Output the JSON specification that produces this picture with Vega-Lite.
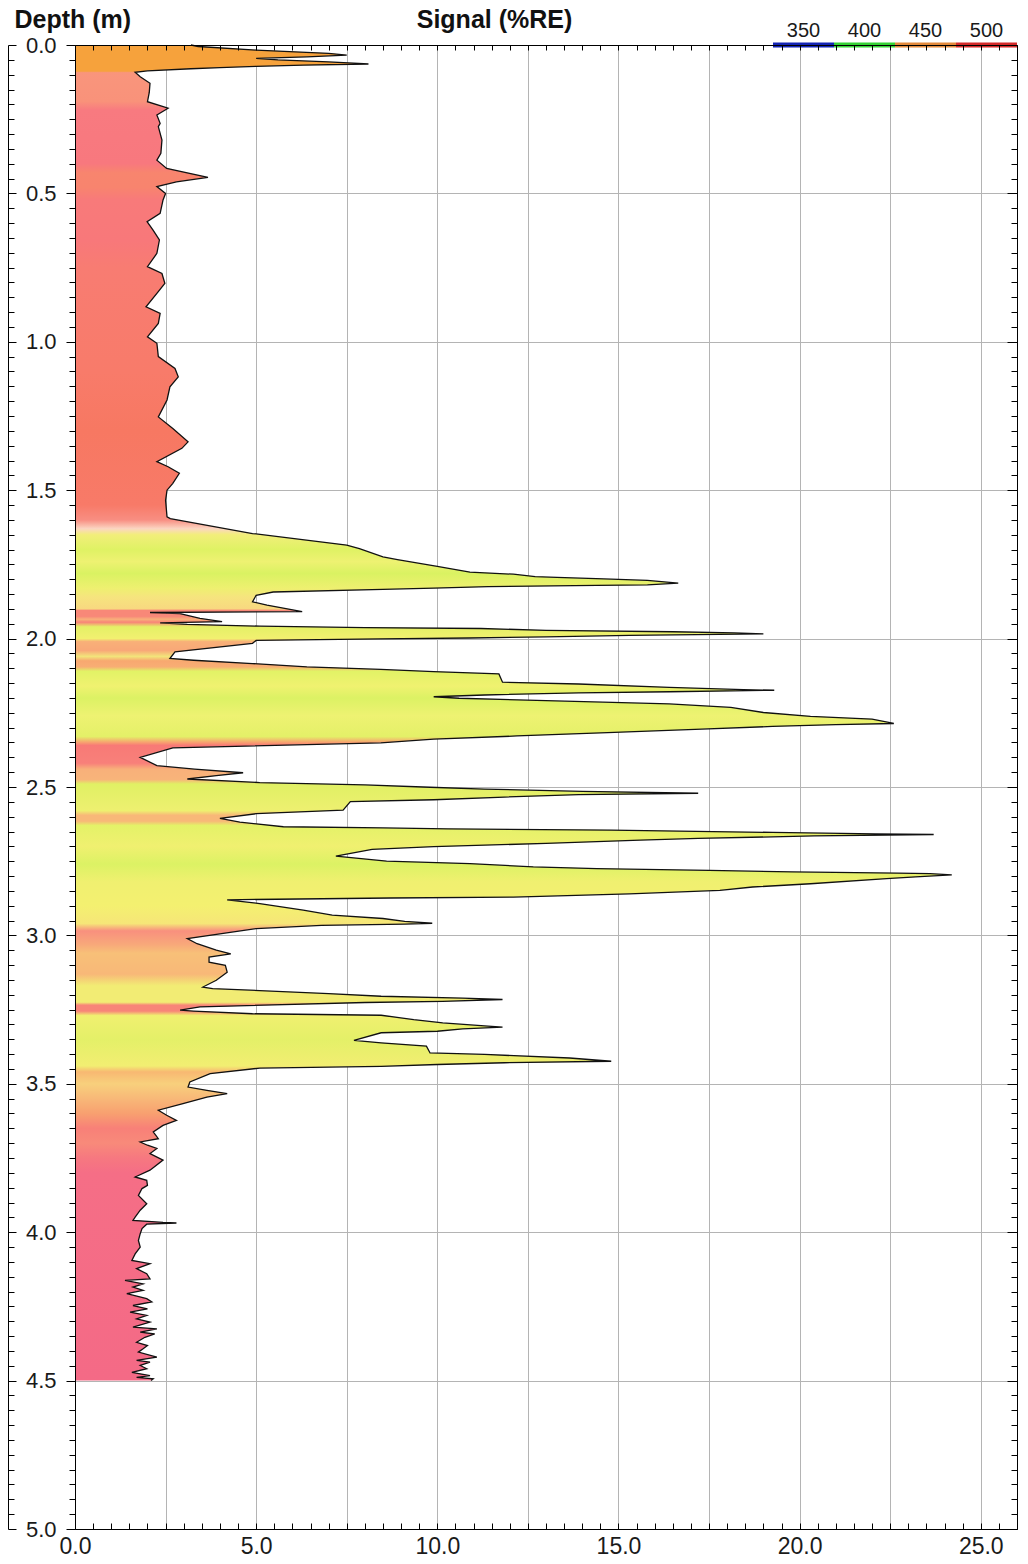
{
"$schema": "https://vega.github.io/schema/vega-lite/v6.json",
"width": 942,
"height": 1484,
"autosize": {"type": "none"},
"padding": {"left": 75, "top": 45, "right": 11, "bottom": 35},
"background": "white",
"config": {
  "view": {"stroke": null},
  "axis": {"labelFont": "Liberation Sans", "titleFont": "Liberation Sans", "domainColor": "#000", "tickColor": "#000", "labelColor": "#1a1a1a", "titleColor": "#111", "labelOverlap": false, "labelFlush": false, "domainWidth": 1, "tickWidth": 1}
},
"datasets": {
  "log": [
{"depth":0,"signal":3.2},{"depth":0.005,"signal":3.4},{"depth":0.017,"signal":5.0},{"depth":0.028,"signal":7.0},{"depth":0.034,"signal":7.5},{"depth":0.04,"signal":6.4},{"depth":0.045,"signal":5.0},{"depth":0.05,"signal":5.6},{"depth":0.057,"signal":7.0},{"depth":0.064,"signal":8.1},{"depth":0.068,"signal":6.3},{"depth":0.072,"signal":5.0},{"depth":0.076,"signal":4.0},{"depth":0.08,"signal":3.2},{"depth":0.087,"signal":2.0},{"depth":0.092,"signal":1.66},{"depth":0.107,"signal":1.8},{"depth":0.129,"signal":2.07},{"depth":0.16,"signal":2.05},{"depth":0.191,"signal":2.0},{"depth":0.213,"signal":2.57},{"depth":0.236,"signal":2.26},{"depth":0.264,"signal":2.35},{"depth":0.275,"signal":2.3},{"depth":0.32,"signal":2.4},{"depth":0.365,"signal":2.37},{"depth":0.388,"signal":2.26},{"depth":0.416,"signal":2.53},{"depth":0.446,"signal":3.67},{"depth":0.461,"signal":2.8},{"depth":0.477,"signal":2.26},{"depth":0.5,"signal":2.5},{"depth":0.522,"signal":2.43},{"depth":0.567,"signal":2.35},{"depth":0.595,"signal":1.99},{"depth":0.623,"signal":2.15},{"depth":0.657,"signal":2.33},{"depth":0.702,"signal":2.26},{"depth":0.747,"signal":2.0},{"depth":0.77,"signal":2.4},{"depth":0.803,"signal":2.48},{"depth":0.837,"signal":2.26},{"depth":0.882,"signal":1.96},{"depth":0.904,"signal":2.35},{"depth":0.938,"signal":2.3},{"depth":0.983,"signal":2.0},{"depth":1.005,"signal":2.26},{"depth":1.05,"signal":2.3},{"depth":1.09,"signal":2.76},{"depth":1.118,"signal":2.85},{"depth":1.152,"signal":2.62},{"depth":1.196,"signal":2.54},{"depth":1.253,"signal":2.3},{"depth":1.292,"signal":2.7},{"depth":1.337,"signal":3.12},{"depth":1.359,"signal":2.95},{"depth":1.404,"signal":2.26},{"depth":1.421,"signal":2.57},{"depth":1.443,"signal":2.88},{"depth":1.477,"signal":2.7},{"depth":1.5,"signal":2.54},{"depth":1.534,"signal":2.5},{"depth":1.59,"signal":2.54},{"depth":1.596,"signal":2.63},{"depth":1.646,"signal":4.9},{"depth":1.685,"signal":7.5},{"depth":1.697,"signal":7.85},{"depth":1.725,"signal":8.5},{"depth":1.734,"signal":8.9},{"depth":1.757,"signal":10.0},{"depth":1.776,"signal":10.9},{"depth":1.783,"signal":12.1},{"depth":1.791,"signal":12.7},{"depth":1.794,"signal":13.3},{"depth":1.799,"signal":14.6},{"depth":1.804,"signal":15.8},{"depth":1.813,"signal":16.65},{"depth":1.819,"signal":15.8},{"depth":1.821,"signal":14.4},{"depth":1.825,"signal":11.4},{"depth":1.83,"signal":9.9},{"depth":1.834,"signal":8.5},{"depth":1.843,"signal":5.47},{"depth":1.854,"signal":5.0},{"depth":1.876,"signal":4.9},{"depth":1.887,"signal":5.3},{"depth":1.909,"signal":6.27},{"depth":1.912,"signal":2.07},{"depth":1.916,"signal":2.9},{"depth":1.932,"signal":3.45},{"depth":1.943,"signal":4.06},{"depth":1.947,"signal":2.35},{"depth":1.952,"signal":3.1},{"depth":1.958,"signal":5.1},{"depth":1.963,"signal":8.0},{"depth":1.966,"signal":11.2},{"depth":1.972,"signal":13.0},{"depth":1.977,"signal":16.5},{"depth":1.981,"signal":18.2},{"depth":1.984,"signal":19.0},{"depth":1.989,"signal":15.3},{"depth":1.994,"signal":13.0},{"depth":1.998,"signal":10.9},{"depth":2.001,"signal":8.44},{"depth":2.006,"signal":5.0},{"depth":2.016,"signal":4.9},{"depth":2.045,"signal":2.76},{"depth":2.067,"signal":2.62},{"depth":2.073,"signal":3.27},{"depth":2.084,"signal":4.9},{"depth":2.095,"signal":6.4},{"depth":2.104,"signal":8.44},{"depth":2.111,"signal":9.9},{"depth":2.119,"signal":11.7},{"depth":2.147,"signal":11.8},{"depth":2.153,"signal":13.9},{"depth":2.164,"signal":16.4},{"depth":2.172,"signal":18.45},{"depth":2.174,"signal":19.3},{"depth":2.179,"signal":16.4},{"depth":2.183,"signal":13.9},{"depth":2.19,"signal":11.3},{"depth":2.196,"signal":9.9},{"depth":2.201,"signal":10.6},{"depth":2.209,"signal":13.0},{"depth":2.22,"signal":16.4},{"depth":2.232,"signal":18.1},{"depth":2.249,"signal":19.0},{"depth":2.262,"signal":20.3},{"depth":2.271,"signal":22.0},{"depth":2.286,"signal":22.6},{"depth":2.29,"signal":21.0},{"depth":2.296,"signal":19.25},{"depth":2.305,"signal":17.3},{"depth":2.317,"signal":14.7},{"depth":2.328,"signal":12.2},{"depth":2.339,"signal":9.9},{"depth":2.351,"signal":8.44},{"depth":2.368,"signal":2.7},{"depth":2.4,"signal":1.8},{"depth":2.428,"signal":2.26},{"depth":2.44,"signal":3.3},{"depth":2.452,"signal":4.64},{"depth":2.462,"signal":3.9},{"depth":2.473,"signal":3.1},{"depth":2.485,"signal":5.1},{"depth":2.493,"signal":8.0},{"depth":2.5,"signal":9.6},{"depth":2.507,"signal":11.3},{"depth":2.515,"signal":14.0},{"depth":2.521,"signal":17.2},{"depth":2.526,"signal":13.9},{"depth":2.534,"signal":11.85},{"depth":2.543,"signal":9.9},{"depth":2.549,"signal":7.6},{"depth":2.578,"signal":7.4},{"depth":2.59,"signal":5.0},{"depth":2.606,"signal":4.0},{"depth":2.618,"signal":4.55},{"depth":2.634,"signal":5.75},{"depth":2.638,"signal":8.5},{"depth":2.641,"signal":10.3},{"depth":2.645,"signal":14.8},{"depth":2.653,"signal":19.25},{"depth":2.658,"signal":22.1},{"depth":2.66,"signal":23.7},{"depth":2.665,"signal":20.4},{"depth":2.673,"signal":17.2},{"depth":2.679,"signal":15.6},{"depth":2.69,"signal":13.0},{"depth":2.701,"signal":9.9},{"depth":2.71,"signal":8.2},{"depth":2.733,"signal":7.2},{"depth":2.741,"signal":7.9},{"depth":2.75,"signal":8.6},{"depth":2.758,"signal":10.9},{"depth":2.769,"signal":12.65},{"depth":2.775,"signal":14.4},{"depth":2.781,"signal":17.5},{"depth":2.786,"signal":19.8},{"depth":2.79,"signal":22.7},{"depth":2.792,"signal":23.6},{"depth":2.796,"signal":24.2},{"depth":2.803,"signal":23.2},{"depth":2.809,"signal":22.4},{"depth":2.826,"signal":20.3},{"depth":2.837,"signal":18.7},{"depth":2.848,"signal":17.8},{"depth":2.86,"signal":15.3},{"depth":2.871,"signal":12.1},{"depth":2.874,"signal":8.7},{"depth":2.88,"signal":4.2},{"depth":2.893,"signal":5.1},{"depth":2.915,"signal":6.3},{"depth":2.932,"signal":7.1},{"depth":2.943,"signal":8.5},{"depth":2.953,"signal":9.1},{"depth":2.959,"signal":9.86},{"depth":2.962,"signal":9.1},{"depth":2.966,"signal":6.8},{"depth":2.977,"signal":5.0},{"depth":3.011,"signal":3.1},{"depth":3.028,"signal":3.37},{"depth":3.05,"signal":3.9},{"depth":3.062,"signal":4.3},{"depth":3.073,"signal":3.7},{"depth":3.09,"signal":3.7},{"depth":3.101,"signal":4.15},{"depth":3.124,"signal":4.2},{"depth":3.151,"signal":3.9},{"depth":3.174,"signal":3.53},{"depth":3.179,"signal":3.8},{"depth":3.196,"signal":7.0},{"depth":3.205,"signal":8.45},{"depth":3.211,"signal":10.7},{"depth":3.216,"signal":11.8},{"depth":3.222,"signal":10.15},{"depth":3.226,"signal":8.0},{"depth":3.241,"signal":3.45},{"depth":3.252,"signal":2.9},{"depth":3.255,"signal":3.27},{"depth":3.264,"signal":4.9},{"depth":3.269,"signal":8.45},{"depth":3.284,"signal":9.35},{"depth":3.295,"signal":10.15},{"depth":3.306,"signal":11.4},{"depth":3.309,"signal":11.8},{"depth":3.315,"signal":10.7},{"depth":3.323,"signal":10.0},{"depth":3.328,"signal":8.45},{"depth":3.354,"signal":7.7},{"depth":3.362,"signal":8.45},{"depth":3.373,"signal":9.7},{"depth":3.396,"signal":9.8},{"depth":3.401,"signal":11.3},{"depth":3.413,"signal":13.65},{"depth":3.424,"signal":14.8},{"depth":3.429,"signal":11.85},{"depth":3.435,"signal":10.0},{"depth":3.441,"signal":8.45},{"depth":3.447,"signal":5.1},{"depth":3.466,"signal":3.73},{"depth":3.494,"signal":3.17},{"depth":3.511,"signal":3.12},{"depth":3.522,"signal":3.64},{"depth":3.533,"signal":4.2},{"depth":3.545,"signal":3.64},{"depth":3.567,"signal":2.98},{"depth":3.589,"signal":2.3},{"depth":3.606,"signal":2.53},{"depth":3.623,"signal":2.8},{"depth":3.64,"signal":2.43},{"depth":3.662,"signal":2.16},{"depth":3.685,"signal":2.3},{"depth":3.696,"signal":1.8},{"depth":3.707,"signal":2.0},{"depth":3.718,"signal":2.26},{"depth":3.735,"signal":2.07},{"depth":3.757,"signal":2.43},{"depth":3.791,"signal":2.07},{"depth":3.814,"signal":1.66},{"depth":3.825,"signal":1.98},{"depth":3.842,"signal":2.0},{"depth":3.853,"signal":1.85},{"depth":3.876,"signal":1.75},{"depth":3.904,"signal":1.98},{"depth":3.926,"signal":1.8},{"depth":3.949,"signal":1.66},{"depth":3.96,"signal":1.6},{"depth":3.967,"signal":2.43},{"depth":3.969,"signal":2.8},{"depth":3.973,"signal":1.98},{"depth":3.988,"signal":1.85},{"depth":4.005,"signal":1.8},{"depth":4.028,"signal":1.75},{"depth":4.05,"signal":1.8},{"depth":4.073,"signal":1.66},{"depth":4.095,"signal":1.57},{"depth":4.106,"signal":2.07},{"depth":4.123,"signal":1.7},{"depth":4.14,"signal":1.98},{"depth":4.157,"signal":2.07},{"depth":4.162,"signal":1.38},{"depth":4.174,"signal":1.88},{"depth":4.185,"signal":1.6},{"depth":4.196,"signal":1.88},{"depth":4.207,"signal":1.43},{"depth":4.224,"signal":1.98},{"depth":4.235,"signal":2.12},{"depth":4.247,"signal":1.6},{"depth":4.258,"signal":2.0},{"depth":4.269,"signal":1.52},{"depth":4.28,"signal":1.98},{"depth":4.292,"signal":1.7},{"depth":4.303,"signal":2.07},{"depth":4.32,"signal":1.6},{"depth":4.326,"signal":2.26},{"depth":4.337,"signal":1.8},{"depth":4.343,"signal":2.2},{"depth":4.354,"signal":1.93},{"depth":4.371,"signal":1.7},{"depth":4.382,"signal":2.0},{"depth":4.393,"signal":1.88},{"depth":4.404,"signal":1.75},{"depth":4.421,"signal":2.26},{"depth":4.432,"signal":1.7},{"depth":4.438,"signal":2.07},{"depth":4.449,"signal":1.8},{"depth":4.46,"signal":1.98},{"depth":4.472,"signal":1.57},{"depth":4.483,"signal":2.07},{"depth":4.489,"signal":1.7},{"depth":4.494,"signal":2.16},{"depth":4.5,"signal":2.1}
  ],
  "legend": [{"wavelength":"350"},{"wavelength":"400"},{"wavelength":"450"},{"wavelength":"500"}]
},
"layer": [
  {
    "data": {"name": "log"},
    "mark": {
      "type": "area", "orient": "horizontal", "interpolate": "linear", "fillOpacity": 1,
      "fill": {"gradient": "linear", "x1": 0, "y1": 0, "x2": 0, "y2": 1, "stops": [
{"offset":0,"color":"#f6a23c"},{"offset":0.0196,"color":"#f6a23c"},{"offset":0.0207,"color":"#f9957c"},{"offset":0.0422,"color":"#f9927a"},{"offset":0.0489,"color":"#f87a80"},{"offset":0.0889,"color":"#f8787e"},{"offset":0.0956,"color":"#f8856e"},{"offset":0.1067,"color":"#f8846e"},{"offset":0.1156,"color":"#f87a7a"},{"offset":0.1467,"color":"#f8787a"},{"offset":0.1667,"color":"#f87c72"},{"offset":0.2444,"color":"#f87b6a"},{"offset":0.2889,"color":"#f77862"},{"offset":0.3444,"color":"#f87a68"},{"offset":0.3556,"color":"#f88e82"},{"offset":0.3622,"color":"#fbd6c2"},{"offset":0.3667,"color":"#f2ee7a"},{"offset":0.3778,"color":"#dff264"},{"offset":0.3867,"color":"#eef272"},{"offset":0.3956,"color":"#daf262"},{"offset":0.4067,"color":"#eef070"},{"offset":0.4133,"color":"#f6e47e"},{"offset":0.4222,"color":"#f8d880"},{"offset":0.4233,"color":"#f88878"},{"offset":0.4278,"color":"#f88878"},{"offset":0.43,"color":"#f8b07a"},{"offset":0.4322,"color":"#f88478"},{"offset":0.4356,"color":"#e4f066"},{"offset":0.4444,"color":"#f2f070"},{"offset":0.4467,"color":"#f8b078"},{"offset":0.4533,"color":"#f8a878"},{"offset":0.4578,"color":"#f2e47a"},{"offset":0.4611,"color":"#f8a870"},{"offset":0.4656,"color":"#f8ae74"},{"offset":0.4689,"color":"#e2f266"},{"offset":0.48,"color":"#f0f270"},{"offset":0.4889,"color":"#dcf264"},{"offset":0.5022,"color":"#eef272"},{"offset":0.5178,"color":"#e4f068"},{"offset":0.5222,"color":"#f8a070"},{"offset":0.5244,"color":"#f87a76"},{"offset":0.5378,"color":"#f8807a"},{"offset":0.5422,"color":"#f8b07a"},{"offset":0.55,"color":"#f8b47a"},{"offset":0.5533,"color":"#e0f064"},{"offset":0.5733,"color":"#eef070"},{"offset":0.5767,"color":"#f8b878"},{"offset":0.5811,"color":"#f8b878"},{"offset":0.5844,"color":"#e4f268"},{"offset":0.6,"color":"#f0f070"},{"offset":0.6133,"color":"#dcf264"},{"offset":0.6267,"color":"#f0f070"},{"offset":0.6444,"color":"#f4f070"},{"offset":0.6578,"color":"#f6e678"},{"offset":0.6633,"color":"#f8907e"},{"offset":0.6733,"color":"#f8a87a"},{"offset":0.68,"color":"#f8c078"},{"offset":0.6956,"color":"#f8b878"},{"offset":0.7044,"color":"#f2ec74"},{"offset":0.7167,"color":"#f2ec74"},{"offset":0.7189,"color":"#f88478"},{"offset":0.7233,"color":"#f88478"},{"offset":0.7267,"color":"#f0f070"},{"offset":0.7444,"color":"#e4f068"},{"offset":0.7644,"color":"#f2ee72"},{"offset":0.7689,"color":"#f8b872"},{"offset":0.7778,"color":"#f8d07c"},{"offset":0.7889,"color":"#f8b878"},{"offset":0.8,"color":"#f8a070"},{"offset":0.8111,"color":"#f88078"},{"offset":0.8222,"color":"#f88a7a"},{"offset":0.8333,"color":"#f67880"},{"offset":0.8444,"color":"#f56e86"},{"offset":1,"color":"#f46a86"}
      ]}
    },
    "encoding": {
      "x": {"field": "signal", "type": "quantitative", "scale": {"domain": [0, 26], "nice": false},
        "axis": {"orient": "bottom", "title": null, "zindex": 0,
          "values": [0,0.5,1,1.5,2,2.5,3,3.5,4,4.5,5,5.5,6,6.5,7,7.5,8,8.5,9,9.5,10,10.5,11,11.5,12,12.5,13,13.5,14,14.5,15,15.5,16,16.5,17,17.5,18,18.5,19,19.5,20,20.5,21,21.5,22,22.5,23,23.5,24,24.5,25,25.5,26],
          "labelExpr": "datum.value % 5 === 0 ? format(datum.value, '.1f') : ''",
          "tickSize": -6, "labelPadding": 12, "labelFontSize": 23,
          "grid": true, "gridColor": "#b4b4b4", "gridWidth": 1,
          "gridOpacity": {"condition": {"test": "datum.value % 2.5 === 0", "value": 1}, "value": 0}}},
      "y": {"field": "depth", "type": "quantitative", "scale": {"domain": [0, 5], "reverse": true, "nice": false, "zero": false},
        "axis": {"orient": "left", "zindex": 1, "grid": false,
          "values": [0,0.05,0.1,0.15,0.2,0.25,0.3,0.35,0.4,0.45,0.5,0.55,0.6,0.65,0.7,0.75,0.8,0.85,0.9,0.95,1,1.05,1.1,1.15,1.2,1.25,1.3,1.35,1.4,1.45,1.5,1.55,1.6,1.65,1.7,1.75,1.8,1.85,1.9,1.95,2,2.05,2.1,2.15,2.2,2.25,2.3,2.35,2.4,2.45,2.5,2.55,2.6,2.65,2.7,2.75,2.8,2.85,2.9,2.95,3,3.05,3.1,3.15,3.2,3.25,3.3,3.35,3.4,3.45,3.5,3.55,3.6,3.65,3.7,3.75,3.8,3.85,3.9,3.95,4,4.05,4.1,4.15,4.2,4.25,4.3,4.35,4.4,4.45,4.5,4.55,4.6,4.65,4.7,4.75,4.8,4.85,4.9,4.95,5],
          "labelExpr": "abs(datum.value*2 - round(datum.value*2)) < 0.001 ? format(datum.value, '.1f') : ''",
          "tickSize": {"condition": {"test": "abs(datum.value*2 - round(datum.value*2)) < 0.001", "value": 9}, "value": 6},
          "labelPadding": 10, "labelFontSize": 22, "labelBaseline": "middle",
          "title": "Depth (m)", "titleAngle": 0, "titleX": -61, "titleY": -18, "titleAlign": "left", "titleBaseline": "alphabetic", "titleFontSize": 25, "titleFontWeight": "bold"}}
    }
  },
  {
    "data": {"name": "log"},
    "mark": {"type": "line", "stroke": "#111111", "strokeWidth": 1.3, "interpolate": "linear"},
    "encoding": {
      "x": {"field": "signal", "type": "quantitative", "scale": {"domain": [0, 26], "nice": false},
        "axis": {"orient": "top", "zindex": 1, "grid": false, "labels": false,
          "values": [0,0.5,1,1.5,2,2.5,3,3.5,4,4.5,5,5.5,6,6.5,7,7.5,8,8.5,9,9.5,10,10.5,11,11.5,12,12.5,13,13.5,14,14.5,15,15.5,16,16.5,17,17.5,18,18.5,19,19.5,20,20.5,21,21.5,22,22.5,23,23.5,24,24.5,25,25.5,26],
          "tickSize": -5,
          "title": "Signal (%RE)", "titleX": 419, "titleY": -18, "titleAlign": "center", "titleBaseline": "alphabetic", "titleAngle": 0, "titleFontSize": 25, "titleFontWeight": "bold"}},
      "y": {"field": "depth", "type": "quantitative",
        "axis": {"orient": "right", "zindex": 0, "labels": false, "title": null,
          "values": [0,0.05,0.1,0.15,0.2,0.25,0.3,0.35,0.4,0.45,0.5,0.55,0.6,0.65,0.7,0.75,0.8,0.85,0.9,0.95,1,1.05,1.1,1.15,1.2,1.25,1.3,1.35,1.4,1.45,1.5,1.55,1.6,1.65,1.7,1.75,1.8,1.85,1.9,1.95,2,2.05,2.1,2.15,2.2,2.25,2.3,2.35,2.4,2.45,2.5,2.55,2.6,2.65,2.7,2.75,2.8,2.85,2.9,2.95,3,3.05,3.1,3.15,3.2,3.25,3.3,3.35,3.4,3.45,3.5,3.55,3.6,3.65,3.7,3.75,3.8,3.85,3.9,3.95,4,4.05,4.1,4.15,4.2,4.25,4.3,4.35,4.4,4.45,4.5,4.55,4.6,4.65,4.7,4.75,4.8,4.85,4.9,4.95,5],
          "tickSize": {"condition": {"test": "abs(datum.value*2 - round(datum.value*2)) < 0.001", "value": -10}, "value": -6},
          "grid": true, "gridColor": "#b4b4b4", "gridWidth": 1,
          "gridOpacity": {"condition": {"test": "abs(datum.value*2 - round(datum.value*2)) < 0.001", "value": 1}, "value": 0}}},
      "order": {"field": "depth", "type": "quantitative"}
    }
  },
  {
    "data": {"name": "legend"},
    "mark": {"type": "rect", "yOffset": -2.5, "y2Offset": 2.5},
    "encoding": {
      "x": {"field": "wavelength", "type": "ordinal", "sort": null,
        "scale": {"type": "band", "range": [698, 942], "paddingInner": 0, "paddingOuter": 0},
        "axis": {"orient": "top", "ticks": false, "domain": false, "grid": false, "title": null, "labelAngle": 0, "labelPadding": 9, "labelBaseline": "alphabetic", "labelFontSize": 20}},
      "y": {"datum": 0, "type": "quantitative",
        "axis": {"orient": "left", "offset": 67, "zindex": 1, "labels": false, "title": null, "grid": false,
          "values": [0,0.05,0.1,0.15,0.2,0.25,0.3,0.35,0.4,0.45,0.5,0.55,0.6,0.65,0.7,0.75,0.8,0.85,0.9,0.95,1,1.05,1.1,1.15,1.2,1.25,1.3,1.35,1.4,1.45,1.5,1.55,1.6,1.65,1.7,1.75,1.8,1.85,1.9,1.95,2,2.05,2.1,2.15,2.2,2.25,2.3,2.35,2.4,2.45,2.5,2.55,2.6,2.65,2.7,2.75,2.8,2.85,2.9,2.95,3,3.05,3.1,3.15,3.2,3.25,3.3,3.35,3.4,3.45,3.5,3.55,3.6,3.65,3.7,3.75,3.8,3.85,3.9,3.95,4,4.05,4.1,4.15,4.2,4.25,4.3,4.35,4.4,4.45,4.5,4.55,4.6,4.65,4.7,4.75,4.8,4.85,4.9,4.95,5],
          "tickSize": {"condition": {"test": "abs(datum.value*2 - round(datum.value*2)) < 0.001", "value": -8}, "value": -6}}},
      "y2": {"datum": 0},
      "color": {"field": "wavelength", "type": "nominal",
        "scale": {"domain": ["350", "400", "450", "500"], "range": ["#1424b4", "#34d234", "#e38a3c", "#d42a2a"]},
        "legend": null}
    }
  }
],
"resolve": {"scale": {"x": "independent"}, "axis": {"x": "independent", "y": "independent"}}
}
